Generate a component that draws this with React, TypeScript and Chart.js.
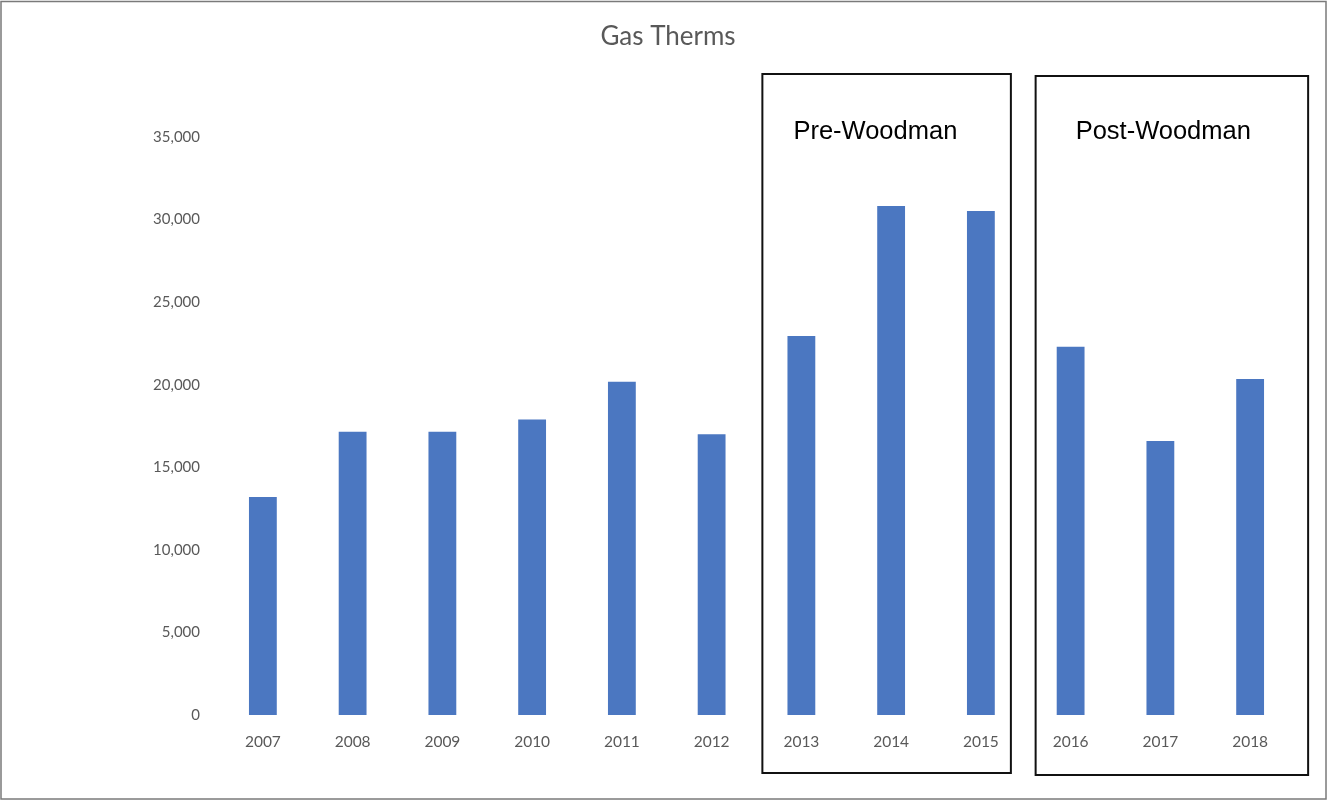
import React, { useEffect, useRef } from "react";
import { Chart, registerables } from "chart.js";

Chart.register(...registerables);

const years = ["2007", "2008", "2009", "2010", "2011", "2012", "2013", "2014", "2015", "2016", "2017", "2018"];
const therms = [13200, 17150, 17150, 17900, 20180, 17000, 22950, 30820, 30520, 22300, 16590, 20350];
const yTicks = [0, 5000, 10000, 15000, 20000, 25000, 30000, 35000];
const chartTitle = "Gas Therms";

// Period boxes: label, first and last year index covered
const periodLabels = ["Pre-Woodman", "Post-Woodman"];
const periodStart = [6, 9];
const periodEnd = [8, 11];

const FONT = "Lato, 'Open Sans', sans-serif";

const decorations = {
  id: "decorations",
  afterDraw(chart: any) {
    const { ctx } = chart;
    const x = chart.scales.x;
    ctx.save();

    // title
    ctx.fillStyle = "#595959";
    ctx.font = `26px ${FONT}`;
    ctx.textAlign = "center";
    ctx.textBaseline = "middle";
    ctx.fillText(chartTitle, 668, 37);

    // hand-drawn frames: left/right offsets from the first/last bar centre, top/bottom in canvas px
    const frames = [
      { l: -39, r: 30, t: 74, b: 773, tx: 31 },
      { l: -35, r: 58, t: 76, b: 775, tx: 40 },
    ];
    frames.forEach((f, i) => {
      const left = x.getPixelForValue(periodStart[i]) + f.l;
      const right = x.getPixelForValue(periodEnd[i]) + f.r;
      ctx.strokeStyle = "#111";
      ctx.lineWidth = 2;
      ctx.strokeRect(left, f.t, right - left, f.b - f.t);
      ctx.fillStyle = "#000";
      ctx.font = "25.5px 'Liberation Sans', Arial, sans-serif";
      ctx.textBaseline = "middle";
      ctx.textAlign = "left";
      ctx.fillText(periodLabels[i], left + f.tx, 132);
    });

    // outer frame
    ctx.strokeStyle = "#7a7a7a";
    ctx.lineWidth = 1.5;
    ctx.strokeRect(1, 1.5, chart.width - 2, chart.height - 4.5);
    ctx.restore();
  },
};

export default function App() {
  const ref = useRef<HTMLCanvasElement>(null);

  useEffect(() => {
    if (!ref.current) return;
    const chart = new Chart(ref.current, {
      type: "bar",
      data: {
        labels: years,
        datasets: [
          {
            label: chartTitle,
            data: therms,
            backgroundColor: "#4B77C1",
            barPercentage: 0.62,
            categoryPercentage: 0.5,
          },
        ],
      },
      options: {
        animation: false,
        responsive: false,
        maintainAspectRatio: false,
        layout: { padding: { left: 0, right: 32, top: 137, bottom: 0 } },
        plugins: {
          legend: { display: false },
          tooltip: { enabled: false },
          title: { display: false },
        },
        scales: {
          x: {
            grid: { display: false, drawTicks: false },
            border: { display: false },
            ticks: {
              color: "#595959",
              font: { family: FONT, size: 15.5 },
              padding: 18,
              maxRotation: 0,
            },
            afterFit(scale: any) {
              scale.height = 87;
            },
          },
          y: {
            min: 0,
            max: 35000,
            grid: { display: false, drawTicks: false },
            border: { display: false },
            afterBuildTicks(scale: any) {
              scale.ticks = yTicks.map((v) => ({ value: v }));
            },
            ticks: {
              color: "#595959",
              font: { family: FONT, size: 15 },
              padding: 18,
              callback: (v: any) => Number(v).toLocaleString("en-US"),
            },
            afterFit(scale: any) {
              scale.width = 218;
            },
          },
        },
      },
      plugins: [decorations],
    });
    return () => chart.destroy();
  }, []);

  return (
    <div style={{ position: "fixed", left: 0, top: 0, width: 1327, height: 802, background: "#fff" }}>
      <canvas ref={ref} width={1327} height={802} style={{ display: "block" }} />
    </div>
  );
}
